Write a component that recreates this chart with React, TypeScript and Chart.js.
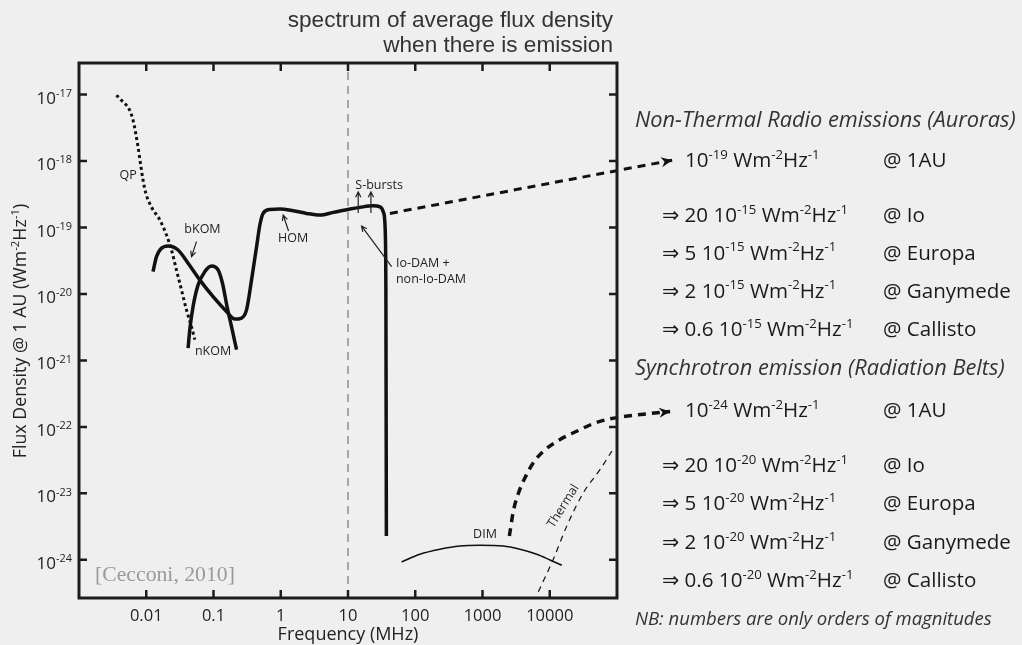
import React, { useEffect, useRef } from 'react';
import { Chart, registerables } from 'chart.js';

Chart.register(...registerables);

// ---------- DATA (frequency in MHz, flux density in W m^-2 Hz^-1 at 1 AU) ----------
const qpFreq = [0.00361, 0.00428, 0.00568, 0.00637, 0.00698, 0.00755, 0.0082, 0.00895, 0.00984, 0.0119, 0.0159, 0.02, 0.0237, 0.0281, 0.0334, 0.0396, 0.0471, 0.0527];
const qpFlux = [9.8e-18, 8.2e-18, 5.8e-18, 4.1e-18, 2.6e-18, 1.63e-18, 9.2e-19, 5.2e-19, 3.3e-19, 2.05e-19, 1.3e-19, 7.7e-20, 4.6e-20, 2.3e-20, 1.15e-20, 5.8e-21, 3.2e-21, 2.05e-21];

// bKOM -> HOM -> Io-DAM + non-Io-DAM (one continuous curve)
const komHomDamFreq = [0.0126, 0.0142, 0.0164, 0.0211, 0.0297, 0.0419, 0.0625, 0.0986, 0.156, 0.207, 0.261, 0.31, 0.368, 0.437, 0.489, 0.547, 0.689, 0.97, 1.53, 2.42, 3.82, 6.03, 10.7, 15.0, 23.7, 29.9, 33.4, 35.4, 36.3, 36.6, 37.2];
const komHomDamFlux = [2.17e-20, 3.65e-20, 4.75e-20, 5.27e-20, 4.59e-20, 2.9e-20, 1.63e-20, 9.1e-21, 5.45e-21, 4.19e-21, 4.34e-21, 5.77e-21, 1.63e-20, 5.15e-20, 1.09e-19, 1.63e-19, 1.87e-19, 1.9e-19, 1.79e-19, 1.63e-19, 1.54e-19, 1.69e-19, 1.9e-19, 2.01e-19, 2.12e-19, 2.05e-19, 1.73e-19, 1.16e-19, 4.1e-20, 1.15e-20, 2.28e-24];

const nkomFreq = [0.0419, 0.0444, 0.0497, 0.059, 0.0743, 0.0933, 0.117, 0.136, 0.159, 0.185, 0.22];
const nkomFlux = [1.53e-21, 2.89e-21, 6.47e-21, 1.37e-20, 2.17e-20, 2.64e-20, 2.3e-20, 1.45e-20, 6.47e-21, 3.24e-21, 1.45e-21];

const dimFreq = [62.8, 117, 233, 462, 918, 2040, 3610, 6410, 10100, 15100];
const dimFlux = [9.27e-25, 1.21e-24, 1.44e-24, 1.61e-24, 1.65e-24, 1.61e-24, 1.44e-24, 1.21e-24, 9.93e-25, 8.26e-25];

// synchrotron, continued out of the frame to the 10^-24 annotation
const syncFreq = [2510, 2870, 3410, 4300, 5700, 8040, 14200, 25200, 44600, 78900, 617000];
const syncFlux = [2.28e-24, 5.35e-24, 9.95e-24, 1.73e-23, 2.88e-23, 4.31e-23, 6.44e-23, 8.59e-23, 1.12e-22, 1.32e-22, 1.71e-22];

const thermalFreq = [6760, 11300, 17900, 31600, 56100, 83800];
const thermalFlux = [3.29e-25, 1.02e-24, 3.21e-24, 1.02e-23, 2.29e-23, 4.31e-23];

// dashed arrow from the DAM maximum to the 10^-19 annotation
const ntArrowFreq = [42, 661000];
const ntArrowFlux = [1.63e-19, 1.03e-18];

const markerFreq = 10; // vertical dashed line
const xMin = 1e-3;
const xMax = 1e5;
const yMin = 2.66e-25;
const yMax = 2.99e-17;

const xTickValues = [0.01, 0.1, 1, 10, 100, 1000, 10000];
const xTickLabels = ['0.01', '0.1', '1', '10', '100', '1000', '10000'];
const yTickExponents = [-17, -18, -19, -20, -21, -22, -23, -24];

const auroraBodies = ['Io', 'Europa', 'Ganymede', 'Callisto'];
const auroraFactors = ['20', '5', '2', '0.6'];
const auroraExp = '-15';
const beltExp = '-20';

const zip = (xs: number[], ys: number[]) => xs.map((x, i) => ({ x, y: ys[i] }));

type Seg = { t: string; sup?: boolean };

const BG = '#efefef';
const INK = '#1c1c1c';
const SANS = '"Open Sans", "DejaVu Sans", sans-serif';
const RIGHT = '"Open Sans", "DejaVu Sans", sans-serif';

function richWidth(ctx: CanvasRenderingContext2D, segs: Seg[], size: number, family: string, style = '') {
  let w = 0;
  for (const s of segs) {
    ctx.font = `${style} ${s.sup ? size * 0.64 : size}px ${family}`;
    w += ctx.measureText(s.t).width;
  }
  return w;
}

function drawRich(ctx: CanvasRenderingContext2D, segs: Seg[], x: number, y: number, size: number, family: string, align: 'left' | 'right' | 'center' = 'left', style = '') {
  const w = richWidth(ctx, segs, size, family, style);
  let cx = align === 'right' ? x - w : align === 'center' ? x - w / 2 : x;
  ctx.textAlign = 'left';
  ctx.textBaseline = 'alphabetic';
  for (const s of segs) {
    ctx.font = `${style} ${s.sup ? size * 0.64 : size}px ${family}`;
    ctx.fillText(s.t, cx, s.sup ? y - size * 0.4 : y);
    cx += ctx.measureText(s.t).width;
  }
}

// font size that makes `text` span `target` pixels
function fitSize(ctx: CanvasRenderingContext2D, text: string, family: string, style: string, target: number) {
  ctx.font = `${style} 20px ${family}`;
  return (20 * target) / ctx.measureText(text).width;
}

function thinArrow(ctx: CanvasRenderingContext2D, x1: number, y1: number, x2: number, y2: number, head = 6) {
  const ang = Math.atan2(y2 - y1, x2 - x1);
  ctx.beginPath();
  ctx.moveTo(x1, y1);
  ctx.lineTo(x2, y2);
  ctx.moveTo(x2 - head * Math.cos(ang - 0.45), y2 - head * Math.sin(ang - 0.45));
  ctx.lineTo(x2, y2);
  ctx.lineTo(x2 - head * Math.cos(ang + 0.45), y2 - head * Math.sin(ang + 0.45));
  ctx.stroke();
}

function solidHead(ctx: CanvasRenderingContext2D, x1: number, y1: number, x2: number, y2: number) {
  const ang = Math.atan2(y2 - y1, x2 - x1);
  const L = 11, W = 5;
  ctx.beginPath();
  ctx.moveTo(x2, y2);
  ctx.lineTo(x2 - L * Math.cos(ang) + W * Math.sin(ang), y2 - L * Math.sin(ang) - W * Math.cos(ang));
  ctx.lineTo(x2 - L * Math.cos(ang) * 0.7, y2 - L * Math.sin(ang) * 0.7);
  ctx.lineTo(x2 - L * Math.cos(ang) - W * Math.sin(ang), y2 - L * Math.sin(ang) + W * Math.cos(ang));
  ctx.closePath();
  ctx.fill();
}

const decoration = {
  id: 'decoration',
  beforeDraw(chart: any) {
    const { ctx, width, height } = chart;
    ctx.save();
    ctx.fillStyle = BG;
    ctx.fillRect(0, 0, width, height);
    ctx.restore();
  },
  afterDraw(chart: any) {
    const ctx: CanvasRenderingContext2D = chart.ctx;
    const xs = chart.scales.x;
    const ys = chart.scales.y;
    const a = chart.chartArea;
    const P = (lf: number, ls: number): [number, number] => [xs.getPixelForValue(Math.pow(10, lf)), ys.getPixelForValue(Math.pow(10, ls))];
    ctx.save();

    // frame
    ctx.strokeStyle = INK;
    ctx.lineWidth = 3;
    ctx.strokeRect(a.left, a.top, a.right - a.left, a.bottom - a.top);
    // inward ticks
    ctx.lineWidth = 2.5;
    ctx.beginPath();
    xTickValues.forEach((v) => {
      const px = xs.getPixelForValue(v);
      ctx.moveTo(px, a.bottom); ctx.lineTo(px, a.bottom - 8);
      ctx.moveTo(px, a.top); ctx.lineTo(px, a.top + 8);
    });
    yTickExponents.forEach((e) => {
      const py = ys.getPixelForValue(Math.pow(10, e));
      ctx.moveTo(a.left, py); ctx.lineTo(a.left + 8, py);
      ctx.moveTo(a.right, py); ctx.lineTo(a.right - 8, py);
    });
    ctx.stroke();

    // tick labels
    ctx.fillStyle = '#222';
    ctx.font = `16.5px ${SANS}`;
    ctx.textAlign = 'center';
    ctx.textBaseline = 'alphabetic';
    xTickValues.forEach((v, i) => {
      ctx.fillText(xTickLabels[i], xs.getPixelForValue(v), 621);
    });
    yTickExponents.forEach((e) => {
      const py = ys.getPixelForValue(Math.pow(10, e));
      drawRich(ctx, [{ t: '10' }, { t: String(e), sup: true }], 72, py + 9, 17, SANS, 'right');
    });

    // axis titles
    ctx.font = `18px ${SANS}`;
    ctx.textAlign = 'center';
    ctx.fillText('Frequency (MHz)', xs.getPixelForValue(10), 640);
    ctx.save();
    ctx.translate(26, 331);
    ctx.rotate(-Math.PI / 2);
    drawRich(ctx, [{ t: 'Flux Density @ 1 AU (Wm' }, { t: '-2', sup: true }, { t: 'Hz' }, { t: '-1', sup: true }, { t: ')' }], 0, 0, 17.8, SANS, 'center');
    ctx.restore();

    // title
    ctx.fillStyle = '#333';
    ctx.font = `22.6px "Liberation Sans", Arial, sans-serif`;
    ctx.textAlign = 'right';
    ctx.fillText('spectrum of average flux density', 613, 27);
    ctx.fillText('when there is emission', 613, 52);

    // curve labels
    ctx.fillStyle = '#222';
    ctx.font = `12.5px ${SANS}`;
    ctx.textAlign = 'center';
    ctx.textBaseline = 'middle';
    const label = (t: string, lf: number, ls: number, align: CanvasTextAlign = 'center') => {
      const [px, py] = P(lf, ls);
      ctx.textAlign = align;
      ctx.fillText(t, px, py);
    };
    label('QP', -2.271, -18.212);
    label('bKOM', -1.164, -19.022);
    label('HOM', 0.185, -19.162);
    label('S-bursts', 1.463, -18.365);
    label('Io-DAM +', 1.713, -19.548, 'left');
    label('non-Io-DAM', 1.713, -19.788, 'left');
    label('nKOM', -1.006, -20.865);
    label('DIM', 3.037, -23.616);
    {
      const [px, py] = P(4.202, -23.192);
      ctx.save();
      ctx.translate(px, py);
      ctx.rotate(-58 * Math.PI / 180);
      ctx.textAlign = 'center';
      ctx.fillText('Thermal', 0, 0);
      ctx.restore();
    }

    // thin annotation arrows
    ctx.strokeStyle = '#222';
    ctx.lineWidth = 1.2;
    const arr = (l1: number, s1: number, l2: number, s2: number) => {
      const [x1, y1] = P(l1, s1);
      const [x2, y2] = P(l2, s2);
      thinArrow(ctx, x1, y1, x2, y2);
    };
    arr(-1.253, -19.213, -1.327, -19.438);
    arr(0.116, -19.053, 0.036, -18.812);
    arr(1.152, -18.782, 1.152, -18.462);
    arr(1.341, -18.782, 1.341, -18.462);
    arr(1.649, -19.589, 1.202, -18.978);

    // solid arrow heads on the long dashed arrows
    ctx.fillStyle = '#111';
    {
      const n = ntArrowFreq.length;
      solidHead(ctx, xs.getPixelForValue(ntArrowFreq[n - 2]), ys.getPixelForValue(ntArrowFlux[n - 2]), xs.getPixelForValue(ntArrowFreq[n - 1]), ys.getPixelForValue(ntArrowFlux[n - 1]));
      const m = syncFreq.length;
      solidHead(ctx, xs.getPixelForValue(syncFreq[m - 2]), ys.getPixelForValue(syncFlux[m - 2]), xs.getPixelForValue(syncFreq[m - 1]), ys.getPixelForValue(syncFlux[m - 1]));
    }

    // citation
    ctx.fillStyle = '#9a9a9a';
    const citeFamily = '"Liberation Serif", "DejaVu Serif", serif';
    const citeSize = fitSize(ctx, '[Cecconi, 2010]', citeFamily, '', 140);
    ctx.font = `${citeSize}px ${citeFamily}`;
    ctx.textAlign = 'left';
    ctx.textBaseline = 'alphabetic';
    ctx.fillText('[Cecconi, 2010]', 95, 581);

    // right-hand panel
    const headSize = fitSize(ctx, 'Non-Thermal Radio emissions (Auroras)', RIGHT, 'italic', 381);
    const nbSize = fitSize(ctx, 'NB: numbers are only orders of magnitudes', RIGHT, 'italic', 357);
    const RS = fitSize(ctx, '@ Ganymede', RIGHT, '', 128);
    ctx.fillStyle = '#333';
    ctx.font = `italic ${headSize}px ${RIGHT}`;
    ctx.fillText('Non-Thermal Radio emissions (Auroras)', 635, 127);
    ctx.fillText('Synchrotron emission (Radiation Belts)', 635, 375);
    ctx.font = `italic ${nbSize}px ${RIGHT}`;
    ctx.fillText('NB: numbers are only orders of magnitudes', 635, 625);

    ctx.fillStyle = '#1a1a1a';
    const unit: Seg[] = [{ t: ' Wm' }, { t: '-2', sup: true }, { t: 'Hz' }, { t: '-1', sup: true }];
    drawRich(ctx, [{ t: '10' }, { t: '-19', sup: true }, ...unit], 685, 167, RS, RIGHT);
    ctx.font = `${RS}px ${RIGHT}`;
    ctx.fillText('@ 1AU', 883, 167);
    drawRich(ctx, [{ t: '10' }, { t: '-24', sup: true }, ...unit], 685, 417, RS, RIGHT);
    ctx.font = `${RS}px ${RIGHT}`;
    ctx.fillText('@ 1AU', 883, 417);
    const auroraY = [222, 259.5, 297.5, 336];
    const beltY = [472, 510, 549, 587];
    auroraBodies.forEach((b, i) => {
      drawRich(ctx, [{ t: '\u21D2 ' + auroraFactors[i] + ' 10' }, { t: auroraExp, sup: true }, ...unit], 662, auroraY[i], RS, RIGHT);
      ctx.font = `${RS}px ${RIGHT}`;
      ctx.fillText('@ ' + b, 883, auroraY[i]);
      drawRich(ctx, [{ t: '\u21D2 ' + auroraFactors[i] + ' 10' }, { t: beltExp, sup: true }, ...unit], 662, beltY[i], RS, RIGHT);
      ctx.font = `${RS}px ${RIGHT}`;
      ctx.fillText('@ ' + b, 883, beltY[i]);
    });

    ctx.restore();
  },
};

export default function App() {
  const ref = useRef<HTMLCanvasElement>(null);
  useEffect(() => {
    document.body.style.margin = '0';
    const canvas = ref.current!;
    const line = (data: any[], extra: any) => ({
      data,
      showLine: true,
      pointRadius: 0,
      fill: false,
      borderColor: '#111',
      borderWidth: 3.5,
      cubicInterpolationMode: 'monotone',
      borderCapStyle: 'butt',
      borderJoinStyle: 'round',
      ...extra,
    });
    const chart = new Chart(canvas, {
      type: 'scatter',
      data: {
        datasets: [
          line([{ x: markerFreq, y: yMin }, { x: markerFreq, y: yMax }], { borderColor: '#777', borderWidth: 1.2, borderDash: [8, 6], cubicInterpolationMode: 'default', tension: 0 }),
          line(zip(qpFreq, qpFlux), { borderWidth: 3, borderDash: [3, 3] }),
          line(zip(komHomDamFreq, komHomDamFlux), {}),
          line(zip(nkomFreq, nkomFlux), {}),
          line(zip(dimFreq, dimFlux), { borderWidth: 1.5 }),
          line(zip(thermalFreq, thermalFlux), { borderWidth: 1.2, borderDash: [6, 5] }),
          line(zip(syncFreq, syncFlux), { borderWidth: 3.5, borderDash: [8, 6], clip: false }),
          line(zip(ntArrowFreq, ntArrowFlux), { borderWidth: 3, borderDash: [8, 6], clip: false, cubicInterpolationMode: 'default', tension: 0 }),
        ],
      },
      options: {
        animation: false,
        responsive: false,
        events: [],
        layout: { padding: { left: 79, top: 63, right: 405, bottom: 47 } },
        plugins: { legend: { display: false }, tooltip: { enabled: false } },
        scales: {
          x: { type: 'logarithmic', min: xMin, max: xMax, display: false },
          y: { type: 'logarithmic', min: yMin, max: yMax, display: false },
        },
      },
      plugins: [decoration],
    } as any);
    return () => chart.destroy();
  }, []);
  return (
    <div style={{ position: 'absolute', left: 0, top: 0, width: 1022, height: 645 }}>
      <canvas ref={ref} width={1022} height={645} style={{ display: 'block' }} />
    </div>
  );
}
